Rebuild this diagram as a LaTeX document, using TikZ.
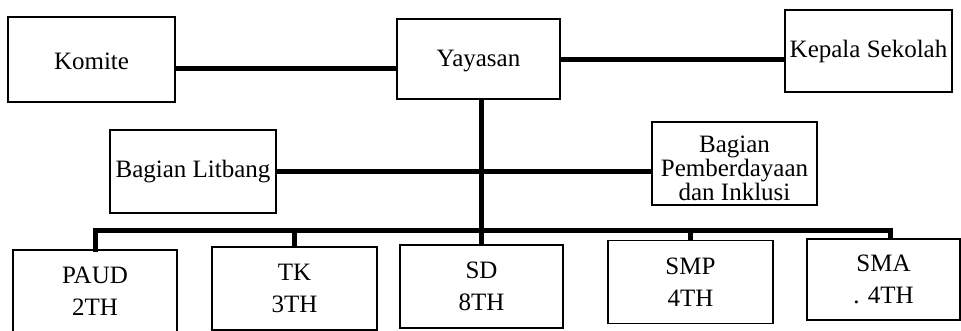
\documentclass[tikz,border=0pt]{standalone}
\usepackage{fontspec}
\setmainfont{Liberation Serif}
\newcommand{\lowerby}[2]{\raisebox{-#1}[\height][\depth]{#2}}
\begin{document}
\begin{tikzpicture}[x=1pt,y=-1pt,
  box/.style={draw=black,line width=1.6pt,rectangle,inner sep=1pt,align=center,
    font=\fontsize{25}{22}\selectfont},
  lowbox/.style={box,minimum width=164pt,minimum height=83pt,font=\fontsize{25}{32}\selectfont},
  link/.style={line width=5pt,line cap=butt}]
\clip (0,0) rectangle (961,330);
\fill[white] (0,0) rectangle (961,330);
\node[box,minimum width=167pt,minimum height=85pt] (komite) at (91.5,59.5) {\lowerby{2pt}{Komite}};
\node[box,minimum width=163pt,minimum height=80pt] (yayasan) at (478.5,59) {\lowerby{2pt}{Yayasan}};
\node[box,minimum width=167pt,minimum height=82pt] (kepala) at (868.5,51) {Kepala Sekolah};
\node[box,minimum width=166pt,minimum height=83pt] (litbang) at (193,171.5) {Bagian Litbang};
\node[box,minimum width=165pt,minimum height=83pt,font=\fontsize{25}{21}\selectfont] (pemb) at (734.5,163.5) {\lowerby{5pt}{\parbox{160pt}{\centering Bagian\\Pemberdayaan\\dan Inklusi}}};
\node[lowbox] (paud) at (95,291.5) {PAUD\\2TH};
\node[lowbox,minimum width=165pt] (tk) at (294.5,288.5) {TK\\3TH};
\node[lowbox,minimum width=163pt] (sd) at (481.5,286.5) {SD\\8TH};
\node[lowbox,minimum width=165pt] (smp) at (690.5,282) {SMP\\4TH};
\node[lowbox,minimum width=153pt,minimum height=81pt] (sma) at (883.5,279.5) {SMA\\. 4TH};
\coordinate (bus) at (0,230);
\coordinate (smadrop) at (890,230);
\draw[link] ([yshift=-8.5pt]komite.east) -- ([yshift=-8.5pt]komite.east -| yayasan.west);
\draw[link] (yayasan.east) -- (yayasan.east -| kepala.west);
\draw[link] (litbang.east) -- (litbang.east -| pemb.west);
\draw[link] (yayasan.south -| sd.north) -- (sd.north);
\draw[link,line cap=rect] (paud.north) -- (paud.north |- bus) -- (smadrop);
\draw[link] (smadrop) -- (smadrop |- sma.north);
\draw[link] (tk.north |- bus) -- (tk.north);
\draw[link] (smp.north |- bus) -- (smp.north);
\end{tikzpicture}
\end{document}
